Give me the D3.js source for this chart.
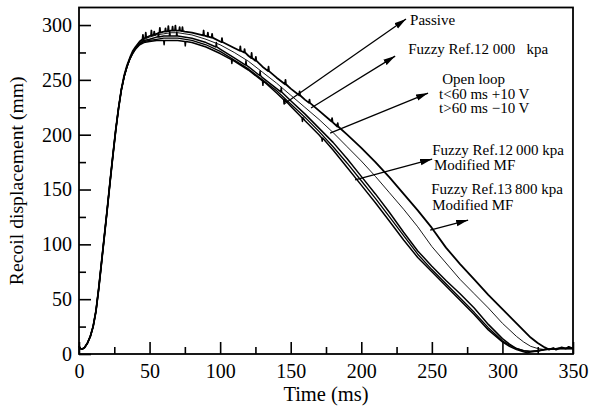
<!DOCTYPE html>
<html>
<head>
<meta charset="utf-8">
<script src="https://cdn.jsdelivr.net/npm/d3@7/dist/d3.min.js"></script>
<style>
  html, body { margin: 0; padding: 0; background: #fff; }
  svg { display: block; }
  text { font-family: "Liberation Serif", "Times New Roman", Times, serif; fill: #000; }
</style>
</head>
<body>
<svg id="chart" width="590" height="411"></svg>
<script>
// Recoil displacement (mm) against time (ms), one [t, value] list per test
const passive = [
  [0,7],[1,5],[2,4.5],[3,5],[4,6],[6,10],[8,16],[10,25],[12,39],[14,60],[16,84],[18,108],[20,132],[22,157],[24,181],[26,204],[28,224],[30,241],[32,253],[34,262],[36,269],[38,274],[40,278],[43,282],[46,284],
  [50,285],[55,286],[60,286],[60.3,282],[60.6,286],[65,286],[70,286],[75,285],[75.3,281],[75.6,285],[80,284],[90,280],[100,274],
  [108,268.5],[108.3,265],[108.6,268.5],[110,267],[120,259],[130,249],[130.3,245],[130.6,249],[140,238],
  [145,232],[145.3,228],[145.6,232],[150,226],[158,215.5],[158.3,212],[158.6,215.5],[160,213],[170,200],[172,197],[172.3,194],[172.6,197],
  [180,186],[190,170],[200,154],[210,138],[220,121],[230,104],[240,88],[250,75],[260,62],[270,49],[280,36],[290,22],[300,11],[305,7],[310,4],[315,2],[318,1],[320,2],[325,3],[330,4],[340,5],[350,5]
];
const fuzzy12000 = [
  [0,7],[1,5],[2,4.5],[3,5],[4,6],[6,10],[8,16],[10,25],[12,39],[14,60],[16,84],[18,108],[20,132],[22,157],[24,181],[26,204],[28,224],[30,241],[32,253],[34,262],[36,269],[38,274],[40,278],[43,283],[46,285],
  [50,286],[55,287],[60,288],[65,288],[70,288],[80,286],[90,282],[100,276],[110,268],[120,260],[130,250],[140,240],[150,228],[160,216],[170,203],[180,189],[190,174],
  [200,158],[210,142],[220,125],[230,108],[240,91],[250,77],[260,64],[270,51],[280,38],[290,24],[300,12],[305,8],[310,5],[315,3],[320,2],[325,2.5],[330,4],[340,5],[350,5]
];
const openLoop = [
  [0,7],[1,5],[2,4.5],[3,5],[4,6],[6,10],[8,16],[10,25],[12,39],[14,60],[16,84],[18,108],[20,132],[22,157],[24,181],[26,204],[28,224],[30,241],[32,253],[34,262],[36,269],[38,275],[40,279],[43,283],[46,286],
  [50,287],[55,289],[56,289],[56.3,293],[56.6,289],[60,290],[64,290],[64.3,294],[64.6,290],[65,290],[69,290],[69.3,293.5],[69.6,290],[70,290],[80,288],[90,284],
  [97,280],[97.3,284],[97.6,280],[100,278],[110,270],[118,263.5],[118.3,267.5],[118.6,263.5],[120,262],[128,254],[128.3,258],[128.6,254],[130,252],[140,242],
  [143,239],[143.3,243],[143.6,239],[150,231],[160,219],[170,206],[180,193],[190,178],[200,162],[210,146],[220,129],[230,111],[240,94],[250,80],[260,67],[270,55],[280,42],[290,27],
  [300,14],[305,9],[310,5],[315,3],[320,2.5],[325,3],[330,4],[340,5],[350,5]
];
const fuzzy12000MF = [
  [0,7],[1,5],[2,4.5],[3,5],[4,6],[6,10],[8,16],[10,25],[12,39],[14,60],[16,84],[18,108],[20,132],[22,157],[24,181],[26,204],[28,224],[30,241],[32,253],[34,262],[36,269],[38,275],[40,279],[43,284],[46,287],
  [50,289],[55,291],[60,292],[65,293],[70,293],[75,292],[80,291],[90,287],[100,282],[110,275],[120,267],[130,257],[140,247],[150,236],[160,225],[170,214],[180,202],[190,189],
  [200,176],[210,162],[220,147],[230,132],[240,116],[250,98],[260,83],[270,68],[280,55],[290,42],[300,28],[310,16],[315,11],[320,7],[325,5],[330,4],[340,5],[350,5]
];
const fuzzy13800MF = [
  [0,7],[1,5],[2,4.5],[3,5],[4,6],[6,10],[8,16],[10,25],[12,39],[14,60],[16,84],[18,108],[20,132],[22,157],[24,181],[26,204],[28,224],[30,241],[32,254],[34,263],[36,270],[38,276],[40,280],[43,285],
  [45,287],[45.3,291],[45.6,287],[47,288.5],[47.3,293],[47.6,288.5],[50,290],[51,290.5],[51.3,295],[51.6,290.5],[53,291],[53.3,294],[53.6,291],[55,292],
  [57,293],[57.3,297.5],[57.6,293],[60,294],[61,294],[61.3,297],[61.6,294],[63,294.5],[63.3,299],[63.6,294.5],[65,295],[66,295],[66.3,298.5],[66.6,295],
  [68,295],[68.3,299.5],[68.6,295],[70,295],[71,295],[71.3,298],[71.6,295],[73,294.5],[73.3,298],[73.6,294.5],[75,294],[80,293],
  [88,290.5],[88.3,295],[88.6,290.5],[90,290],[91,289.5],[91.3,293],[91.6,289.5],[94,288.5],[94.3,292],[94.6,288.5],[100,285],[101,284.5],[101.3,288],[101.6,284.5],
  [110,279],[114,276.5],[114.3,280.5],[114.6,276.5],[117,275],[117.3,278],[117.6,275],[120,272],[122,270],[122.3,274.5],[122.6,270],[125,267.5],[125.3,271],[125.6,267.5],
  [130,262],[134,258],[134.3,262],[134.6,258],[140,252],[146,246],[146.3,250],[146.6,246],[150,242],[156,236],[156.3,239.5],[156.6,236],[160,232],
  [163,229],[163.3,232],[163.6,229],[170,222],[179,212],[179.3,215],[179.6,212],[180,211],[183,207.5],[183.3,210.5],[183.6,207.5],
  [190,200],[200,188],[210,175],[220,161],[230,146],[240,131],[250,115],[260,97],[270,82],[280,68],[290,54],[300,41],[310,28],[320,15],[325,10],[330,6],
  [333,4],[336,5.5],[338,4],[342,6],[345,5],[347,6.5],[350,5]
];

const seriesList = [passive, fuzzy12000, openLoop, fuzzy12000MF, fuzzy13800MF];
const seriesWidths = [1.5, 1.3, 1.5, 0.9, 1.8];

const xMajor = [0, 50, 100, 150, 200, 250, 300, 350];
const xMinor = [25, 75, 125, 175, 225, 275, 325];
const yMajor = [0, 50, 100, 150, 200, 250, 300];
const yMinor = [25, 75, 125, 175, 225, 275];

// annotation labels, anchored in data units (t, value)
const labelTexts = ["Passive", "Fuzzy Ref.12 000   kpa", "Open loop", "t<60 ms +10 V", "t>60 ms \u221210 V",
                    "Fuzzy Ref.12\u2009000 kpa", "Modified MF", "Fuzzy Ref.13\u2009800 kpa", "Modified MF"];
const labelT = [234.6, 233.2, 257.3, 255.1, 255.1, 250.2, 251.5, 249.5, 250.2];
const labelV = [300, 273.5, 246.2, 232.7, 219.5, 181.5, 167.8, 145.6, 131.6];
// arrows from a curve to its label: [t0, v0, t1, v1]
const arrows = [
  [145.3, 228, 231.7, 305.5],
  [164.4, 224.3, 224, 271.7],
  [177.9, 201.5, 247.3, 238],
  [195.6, 158.7, 250.2, 177.8],
  [248.8, 113, 275.7, 122.2]
];

const svg = d3.select("#chart");
const plotLeft = 79, plotRight = 573, plotTop = 7.5, plotBottom = 354;

const x = d3.scaleLinear().domain([0, 350]).range([plotLeft, plotRight]);
const y = d3.scaleLinear().domain([0, 316]).range([plotBottom, plotTop]);

// arrowhead
svg.append("defs").append("marker")
  .attr("id", "head")
  .attr("markerUnits", "userSpaceOnUse")
  .attr("viewBox", "0 0 12 8")
  .attr("refX", 12).attr("refY", 4)
  .attr("markerWidth", 12).attr("markerHeight", 8)
  .attr("orient", "auto")
  .append("path").attr("d", "M0,0.8 L12,4 L0,7.2 Z").attr("fill", "#000");

// curves
const line = d3.line().x(d => x(d[0])).y(d => y(d[1]));
svg.append("g")
  .selectAll("path").data(seriesList).join("path")
  .attr("d", line)
  .attr("fill", "none")
  .attr("stroke", "#000")
  .attr("stroke-width", (d, i) => seriesWidths[i])
  .attr("stroke-linejoin", "round");

// axes with inward ticks
const fontSize = 20;
svg.append("g").attr("transform", `translate(0,${plotBottom})`)
  .call(d3.axisBottom(x).tickValues(xMajor).tickSizeInner(-12).tickSizeOuter(0).tickPadding(10).tickFormat(d3.format("d")));
svg.append("g").attr("transform", `translate(0,${plotBottom})`)
  .call(d3.axisBottom(x).tickValues(xMinor).tickSizeInner(-7).tickSizeOuter(0).tickFormat(""));
svg.append("g").attr("transform", `translate(${plotLeft},0)`)
  .call(d3.axisLeft(y).tickValues(yMajor).tickSizeInner(-12).tickSizeOuter(0).tickPadding(7).tickFormat(d3.format("d")));
svg.append("g").attr("transform", `translate(${plotLeft},0)`)
  .call(d3.axisLeft(y).tickValues(yMinor).tickSizeInner(-7).tickSizeOuter(0).tickFormat(""));

svg.selectAll(".domain").remove();
svg.selectAll(".tick line").attr("stroke", "#000").attr("stroke-width", 1.6);
svg.selectAll(".tick text").attr("font-size", fontSize)
  .style("font-family", "'Liberation Serif', 'Times New Roman', serif").attr("fill", "#000");

// frame
svg.append("rect")
  .attr("x", plotLeft).attr("y", plotTop)
  .attr("width", plotRight - plotLeft).attr("height", plotBottom - plotTop)
  .attr("fill", "none").attr("stroke", "#000").attr("stroke-width", 1.8);

// axis titles
svg.append("text")
  .attr("x", (plotLeft + plotRight) / 2).attr("y", 401)
  .attr("text-anchor", "middle").attr("font-size", 20.5)
  .text("Time (ms)");
svg.append("text")
  .attr("transform", `translate(23,${(plotTop + plotBottom) / 2}) rotate(-90)`)
  .attr("text-anchor", "middle").attr("font-size", 19.7)
  .text("Recoil displacement (mm)");

// annotation arrows and labels
svg.append("g").selectAll("line").data(arrows).join("line")
  .attr("x1", d => x(d[0])).attr("y1", d => y(d[1]))
  .attr("x2", d => x(d[2])).attr("y2", d => y(d[3]))
  .attr("stroke", "#000").attr("stroke-width", 1.3)
  .attr("marker-end", "url(#head)");

svg.append("g").selectAll("text").data(labelTexts).join("text")
  .attr("x", (d, i) => x(labelT[i])).attr("y", (d, i) => y(labelV[i]))
  .attr("font-size", 15)
  .attr("xml:space", "preserve")
  .style("white-space", "pre")
  .text(d => d);
</script>
</body>
</html>
